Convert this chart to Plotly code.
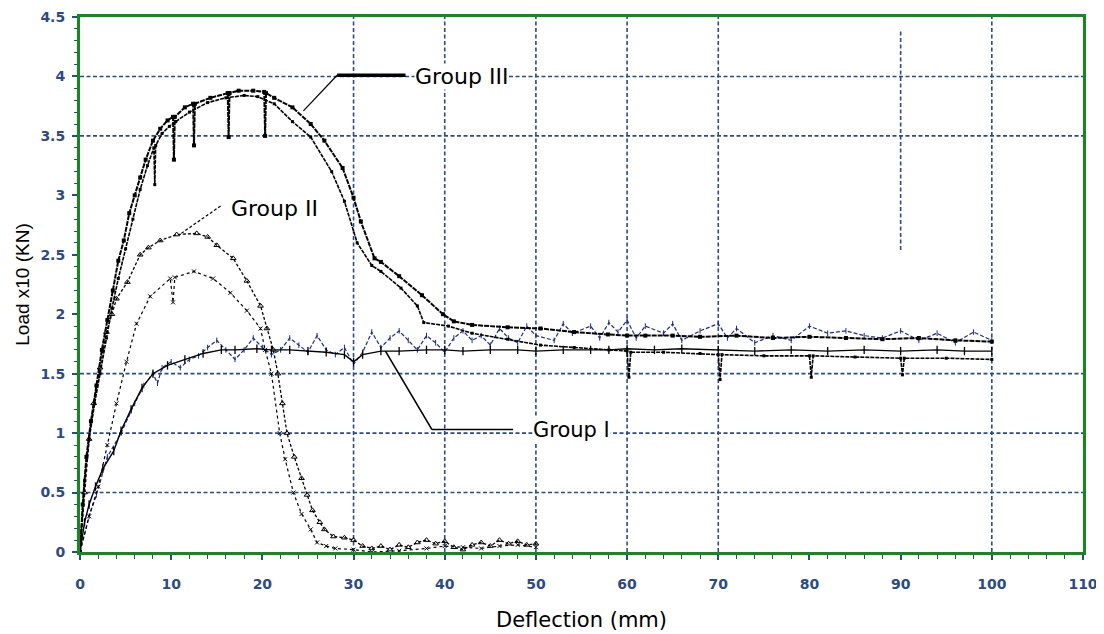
import plotly.graph_objects as go

# ---------------- data ----------------
g3a_x = [0, 0.3, 0.7, 1.2, 1.8, 2.4, 3.0, 3.6, 4.2, 4.8, 5.4, 6.0, 6.6, 7.2, 8.0, 8.8, 9.6, 10.2, 10.3, 10.4,
         11.5, 12.4, 12.5, 12.6, 14.3, 16.2, 16.3, 16.4, 17.4, 19.0, 20.2, 20.3, 20.4, 21.3, 23.3, 25.3, 26.8,
         28.8, 30.0, 30.8, 32.3, 33.0, 35.0, 37.5, 39.8, 41.0, 43.0, 46.9, 50.5, 54.2, 57.9, 60, 62, 65, 68,
         72, 76, 80, 84, 88, 92, 96, 100]
g3a_y = [0, 0.4, 0.8, 1.1, 1.4, 1.7, 1.95, 2.2, 2.45, 2.62, 2.85, 3.0, 3.15, 3.3, 3.46, 3.56, 3.63, 3.66, 3.3, 3.66,
         3.74, 3.77, 3.42, 3.77, 3.82, 3.86, 3.49, 3.86, 3.88, 3.88, 3.87, 3.5, 3.86, 3.82, 3.74, 3.6, 3.46,
         3.23, 2.98, 2.78, 2.47, 2.44, 2.32, 2.16, 2.0, 1.94, 1.91, 1.89, 1.88, 1.85, 1.83, 1.82, 1.82, 1.82, 1.81,
         1.82, 1.8, 1.81, 1.8, 1.79, 1.8, 1.78, 1.77]

g3b_x = [0, 0.5, 1.0, 1.6, 2.2, 2.9, 3.5, 4.2, 5.0, 5.8, 6.6, 7.4, 8.1, 8.2, 8.3, 9.0, 9.8, 10.5, 12, 14, 16,
         18, 19.5, 21.3, 23.3, 25.3, 27.6, 29, 30.4, 32, 33, 35.2, 37, 37.7, 40.4, 43, 46.9, 50.5, 54.2, 58,
         60, 60.2, 60.4, 64, 68, 70, 70.2, 70.4, 75, 80, 80.2, 80.4, 85, 90, 90.2, 90.4, 95, 100]
g3b_y = [0, 0.6, 0.95, 1.25, 1.5, 1.8, 2.05, 2.3, 2.55, 2.8, 3.05, 3.25, 3.4, 3.09, 3.42, 3.52, 3.58, 3.62, 3.7,
         3.78, 3.82, 3.84, 3.83, 3.77, 3.62, 3.49, 3.2, 2.95, 2.6, 2.41, 2.36, 2.22, 2.07, 1.93, 1.9, 1.84,
         1.79, 1.74, 1.72, 1.7, 1.69, 1.47, 1.68, 1.68, 1.67, 1.66, 1.45, 1.66, 1.65, 1.65, 1.47, 1.65, 1.64,
         1.63, 1.49, 1.63, 1.63, 1.62]

g2a_x = [0, 0.5, 1.0, 1.5, 2.2, 2.9, 3.5, 4.0, 5.2, 6.6, 7.5, 8.8, 10.6, 12.8, 14.0, 15.0, 16.8, 18.3, 19.8,
         20.5, 21.2, 21.7, 22.2, 22.7, 23.5, 24.3, 24.9, 25.5, 26.3, 26.8, 27.8, 29.0, 30, 31, 32, 33, 34, 35,
         36, 37, 38, 39, 40, 41, 42, 43, 44, 45, 46, 47, 48, 49, 50]
g2a_y = [0, 0.5, 0.95, 1.25, 1.55, 1.85, 2.0, 2.13, 2.27, 2.5, 2.56, 2.62, 2.67, 2.68, 2.65, 2.58, 2.47, 2.28,
         2.07, 1.88, 1.7, 1.5, 1.25, 1.0, 0.8, 0.62, 0.48, 0.35, 0.25, 0.19, 0.13, 0.12, 0.1, 0.05, 0.03, 0.05,
         0.02, 0.06, 0.04, 0.08, 0.1, 0.07, 0.09, 0.04, 0.02, 0.06, 0.08, 0.05, 0.1, 0.07, 0.09, 0.06, 0.07]

g2b_x = [0, 1.0, 2.0, 3.0, 4.0, 5.1, 6.2, 7.7, 9.9, 10.2, 10.4, 12.5, 14.6, 16.5, 18.3, 19.8, 20.3, 21.0,
         21.9, 22.5, 23.4, 24.3, 25.3, 26.0, 27, 28, 30, 32, 35, 38, 40, 42, 44, 46, 48, 50]
g2b_y = [0, 0.3, 0.55, 0.9, 1.25, 1.6, 1.92, 2.15, 2.3, 2.1, 2.31, 2.36, 2.3, 2.18, 2.03, 1.88, 1.7, 1.5,
         1.0, 0.78, 0.5, 0.32, 0.19, 0.08, 0.05, 0.03, 0.02, 0.0, 0.01, 0.03, 0.05, 0.04, 0.03, 0.05, 0.06, 0.04]

g1a_x = [0, 0.5, 1.0, 1.7, 2.5, 3.7, 4.5, 5.6, 6.8, 8.0, 9.6, 11.5, 13.5, 15.5, 17, 19.4, 21, 23, 25, 27, 29,
         30, 31, 33, 35, 38, 40, 42, 45, 48, 50, 53, 56, 58, 60, 63, 66, 70, 74, 78, 82, 86, 90, 94, 97, 100]
g1a_y = [0, 0.25, 0.4, 0.55, 0.7, 0.85, 1.02, 1.2, 1.38, 1.5, 1.57, 1.62, 1.67, 1.7, 1.7, 1.71, 1.7, 1.7, 1.69,
         1.68, 1.66, 1.6, 1.66, 1.69, 1.69, 1.7, 1.7, 1.69, 1.7, 1.7, 1.69, 1.7, 1.7, 1.7, 1.71, 1.7, 1.71, 1.7,
         1.69, 1.7, 1.69, 1.7, 1.69, 1.7, 1.69, 1.69]

g1b_x = [0, 1, 1.8, 3, 4.5, 6, 7, 8, 8.5, 9, 10, 11, 12, 13, 14, 15, 16, 17, 18, 19, 20, 21, 22, 23, 24, 25,
         26, 27, 28, 29, 30, 31, 32, 33, 34, 35, 36, 37, 38, 39, 40, 41, 42, 43, 44, 45, 46, 47, 48, 49, 50,
         52, 53, 54, 56, 57, 58, 59, 60, 61, 62, 64, 65, 66, 68, 70, 71, 72, 74, 76, 78, 80, 82, 84, 86, 88,
         90, 92, 94, 96, 98, 100]
g1b_y = [0, 0.3, 0.48, 0.8, 1.0, 1.25, 1.4, 1.5, 1.42, 1.55, 1.6, 1.55, 1.62, 1.65, 1.72, 1.78, 1.7, 1.62,
         1.7, 1.8, 1.72, 1.66, 1.7, 1.8, 1.74, 1.68, 1.82, 1.7, 1.66, 1.72, 1.58, 1.68, 1.85, 1.72, 1.8, 1.86,
         1.78, 1.7, 1.82, 1.76, 1.68, 1.8, 1.86, 1.78, 1.82, 1.74, 1.88, 1.8, 1.76, 1.9, 1.82, 1.78, 1.92,
         1.84, 1.9, 1.8, 1.93, 1.85, 1.95, 1.8, 1.9, 1.84, 1.92, 1.78, 1.86, 1.92, 1.8, 1.88, 1.76, 1.82,
         1.78, 1.9, 1.84, 1.86, 1.82, 1.8, 1.86, 1.78, 1.84, 1.76, 1.85, 1.78]

x_ticks = [0, 10, 20, 30, 40, 50, 60, 70, 80, 90, 100, 110]
y_ticks = [0, 0.5, 1, 1.5, 2, 2.5, 3, 3.5, 4, 4.5]
y_tick_text = ["0", "0.5", "1", "1.5", "2", "2.5", "3", "3.5", "4", "4.5"]
grid_x = [30, 40, 50, 60, 70, 100]
grid_y = [0.5, 1, 1.5, 3.5, 4]
partial_grid = (90, 2.54, 4.39)

labels = ["Group III", "Group II", "Group I"]
label_pos = [(36.6, 4.0), (16.5, 2.89), (49.6, 1.03)]
leader_g3 = [(24.5, 3.71), (28.2, 4.01), (35.7, 4.01)]
leader_g2 = [(11.1, 2.68), (15.6, 2.92)]
leader_g1 = [(33.5, 1.69), (38.6, 1.03), (47.5, 1.03)]

NAVY = "#2b4a8a"
GREEN = "#138a1c"
FONT = "Liberation Sans"
WIDE = "DejaVu Sans"

fig = go.Figure()

fig.add_trace(go.Scatter(x=g1b_x, y=g1b_y, mode="lines+markers",
                         line=dict(color="#1a2a8c", width=1.2, dash="4px,2px"),
                         marker=dict(symbol="line-ns", size=4, line=dict(color="#1a2a8c", width=1))))
fig.add_trace(go.Scatter(x=g2b_x, y=g2b_y, mode="lines+markers",
                         line=dict(color="black", width=1.2, dash="dot"),
                         marker=dict(symbol="x-thin", size=4, line=dict(color="black", width=1))))
fig.add_trace(go.Scatter(x=g2a_x, y=g2a_y, mode="lines+markers",
                         line=dict(color="black", width=1.3, dash="3px,2px"),
                         marker=dict(symbol="triangle-up-open", size=5, color="black", line=dict(width=1))))
fig.add_trace(go.Scatter(x=g1a_x, y=g1a_y, mode="lines+markers",
                         line=dict(color="black", width=1.4),
                         marker=dict(symbol="line-ns", size=6, line=dict(color="black", width=1.3))))
fig.add_trace(go.Scatter(x=g3b_x, y=g3b_y, mode="lines+markers",
                         line=dict(color="black", width=1.6, dash="4px,1px"),
                         marker=dict(symbol="square", size=3, color="black")))
fig.add_trace(go.Scatter(x=g3a_x, y=g3a_y, mode="lines+markers",
                         line=dict(color="black", width=2, dash="5px,1px"),
                         marker=dict(symbol="square", size=4, color="black")))

shapes = []
for gx in grid_x:
    shapes.append(dict(type="line", xref="x", yref="y", x0=gx, x1=gx, y0=0, y1=4.5, layer="below",
                       line=dict(color=NAVY, width=1.6, dash="4px,2.5px")))
shapes.append(dict(type="line", xref="x", yref="y", x0=partial_grid[0], x1=partial_grid[0],
                   y0=partial_grid[1], y1=partial_grid[2], layer="below",
                   line=dict(color=NAVY, width=1.6, dash="4px,2.5px")))
for gy in grid_y:
    shapes.append(dict(type="line", xref="x", yref="y", x0=0, x1=110, y0=gy, y1=gy, layer="below",
                       line=dict(color=NAVY, width=1.6, dash="4px,2.5px")))

def leader(points, width, dash="solid"):
    out = []
    for (xa, ya), (xb, yb) in zip(points[:-1], points[1:]):
        out.append(dict(type="line", xref="x", yref="y", x0=xa, y0=ya, x1=xb, y1=yb,
                        line=dict(color="black", width=width, dash=dash)))
    return out

shapes += leader(leader_g3[:2], 1.2)
shapes += leader(leader_g3[1:], 3.5)
shapes += leader(leader_g2, 1.2, "3px,2px")
shapes += leader(leader_g1, 1.6)

annotations = []
for text, (ax, ay) in zip(labels, label_pos):
    annotations.append(dict(x=ax, y=ay, xref="x", yref="y", text=text, showarrow=False,
                            xanchor="left", yanchor="middle", borderpad=0,
                            font=dict(family=WIDE, size=22 if text != "Group I" else 21, color="black"),
                            bgcolor="white"))

fig.update_layout(
    width=1096, height=626,
    margin=dict(l=72, r=21, t=9, b=82),
    paper_bgcolor="white", plot_bgcolor="white",
    showlegend=False,
    shapes=shapes, annotations=annotations,
    font=dict(family=FONT),
)
fig.update_xaxes(
    range=[0, 110], tickvals=x_ticks, ticks="outside", ticklen=5, tickwidth=1.5, tickcolor=NAVY,
    minor=dict(dtick=2, ticks="outside", ticklen=4, tickcolor=NAVY, tickwidth=1.2),
    showgrid=False, zeroline=False, showline=True, linecolor=GREEN, linewidth=3, mirror=True,
    automargin=False,
    tickfont=dict(family=WIDE, size=14, color=NAVY, weight="bold"), ticklabelstandoff=12,
    title=dict(text="Deflection (mm)", font=dict(family=WIDE, size=21, color="black"), standoff=22),
)
fig.update_yaxes(
    range=[0, 4.5], tickvals=y_ticks, ticktext=y_tick_text, ticks="outside", ticklen=5, tickwidth=1.5,
    tickcolor=NAVY,
    minor=dict(dtick=0.1, ticks="outside", ticklen=3, tickcolor=NAVY, tickwidth=1.2),
    showgrid=False, zeroline=False, showline=True, linecolor=GREEN, linewidth=3, mirror=True,
    automargin=False,
    tickfont=dict(family=WIDE, size=14, color=NAVY, weight="bold"), ticklabelstandoff=4,
    title=dict(text="Load x10 (KN)", font=dict(family=FONT, size=19, color="black"), standoff=6),
)

fig.write_html("out.html")
